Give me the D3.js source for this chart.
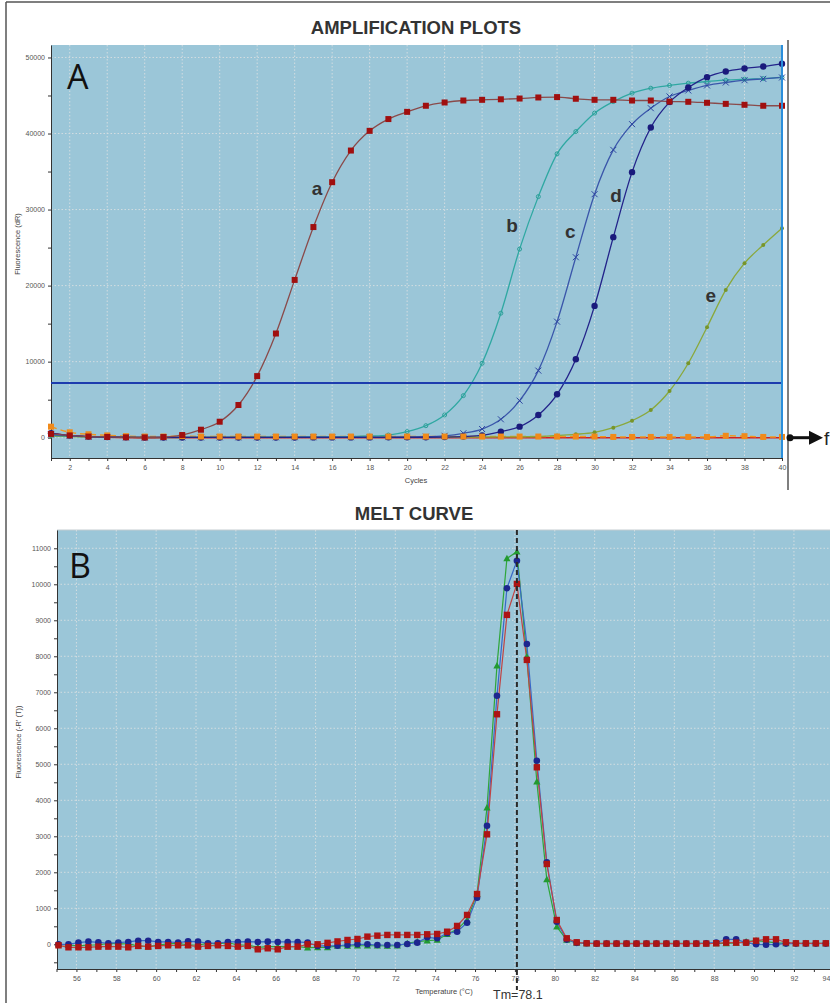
<!DOCTYPE html>
<html>
<head>
<meta charset="utf-8">
<script src="https://d3js.org/d3.v7.min.js"></script>
<style>
body { margin: 0; background: #fff; }
svg { display: block; font-family: "Liberation Sans", Arial, sans-serif; }
.grid line { stroke: #d3dde1; stroke-width: 1; stroke-dasharray: 1.5,2; }
.axis path, .axis line { stroke: #333; }
.axis text { fill: #555; font-size: 7px; }
.title { font-size: 18.5px; font-weight: bold; fill: #333; text-anchor: middle; }
.ax-label { font-size: 7.5px; fill: #444; text-anchor: middle; }
.curve-label { font-size: 19px; font-weight: bold; fill: #333; text-anchor: middle; }
.panel-letter { font-family: "Open Sans", "DejaVu Sans", sans-serif; font-size: 34px; fill: #111; }
</style>
</head>
<body>
<script>

// amplification data (cycles 1..40)
var cycles = [1,2,3,4,5,6,7,8,9,10,11,12,13,14,15,16,17,18,19,20,
              21,22,23,24,25,26,27,28,29,30,31,32,33,34,35,36,37,38,39,40];
var ampA = [500,300,150,100,50,30,80,350,1050,2100,4300,8100,13700,20750,27700,33600,37760,40350,41900,42850,
            43650,44080,44340,44430,44500,44600,44740,44790,44570,44430,44430,44340,44340,44200,44170,44040,43900,43780,43650,43650];
var ampB = [300,200,100,50,30,20,20,30,40,50,60,60,70,80,100,120,150,220,350,800,
            1580,2990,5530,9790,16370,24800,31700,37330,40260,42680,44200,45310,45960,46320,46620,46840,47010,47150,47230,47370];
var ampC = [400,250,150,80,50,40,40,40,40,50,50,50,50,60,60,60,70,70,80,100,
            130,250,580,1140,2420,4870,8820,15260,23730,32020,37850,41230,43330,44870,45660,46320,46710,47010,47190,47370];
var ampD = [600,300,150,80,50,30,30,30,30,30,30,30,30,30,40,40,40,40,50,50,
            60,80,150,300,790,1450,2990,5710,10320,17330,26370,34920,40790,44130,46050,47410,48160,48550,48820,49170];
var ampE = [200,150,100,80,60,50,50,50,50,50,50,50,50,50,50,50,60,60,60,60,
            70,70,80,90,100,120,150,300,450,710,1320,2240,3640,6140,9790,14530,19430,22950,25350,27550];
var ampF = [1450,710,450,300,200,150,150,200,150,150,150,150,150,150,150,150,150,150,150,150,
            150,150,150,150,150,150,150,150,150,150,100,100,100,100,100,100,250,200,100,100];
var ampF2 = [600,300,100,50,0,-50,0,0,0,0,0,0,0,0,0,0,0,0,0,0,
             0,0,0,0,0,0,0,0,0,0,0,0,0,0,0,0,0,0,0,0];
var threshold = 7200;
var curveLabels = [
  {text: "a", cycle: 15.2, value: 31900},
  {text: "b", cycle: 25.6, value: 27050},
  {text: "c", cycle: 28.7, value: 26260},
  {text: "d", cycle: 31.15, value: 30990},
  {text: "e", cycle: 36.2, value: 17850}
];
var ampTicksY = [0,10000,20000,30000,40000,50000];
var ampMinorY = [0,5000,10000,15000,20000,25000,30000,35000,40000,45000,50000];

// melt data (temperature, -R'(T))
var temps = [55.1,55.6,56.1,56.6,57.1,57.6,58.1,58.6,59.1,59.6,
             60.1,60.6,61.1,61.6,62.1,62.6,63.1,63.6,64.1,64.6,
             65.1,65.6,66.1,66.6,67.1,67.6,68.1,68.6,69.1,69.6,
             70.1,70.6,71.1,71.6,72.1,72.6,73.1,73.6,74.1,74.6,
             75.1,75.6,76.1,76.6,77.1,77.6,78.1,78.6,79.1,79.6,
             80.1,80.6,81.1,81.6,82.1,82.6,83.1,83.6,84.1,84.6,
             85.1,85.6,86.1,86.6,87.1,87.6,88.1,88.6,89.1,89.6,
             90.1,90.6,91.1,91.6,92.1,92.6,93.1,93.6];
var meltBlue = [0,0,46,74,56,30,46,65,100,100,
                65,65,46,83,74,30,30,65,65,74,
                65,74,65,65,65,46,-46,-46,-37,-20,
                0,0,-20,-20,-20,10,46,195,167,305,
                350,600,1295,3295,6905,9890,10655,8340,5100,2278,
                628,130,40,30,20,20,20,20,20,20,
                20,20,20,20,20,30,46,139,139,46,
                0,-10,0,20,20,20,20,20];
var meltRed = [-28,-83,-83,-83,-65,-65,-65,-83,-46,-65,
               -46,-28,-28,-28,-65,-46,-28,-46,-65,-46,
               -139,-111,-139,-65,-65,0,0,40,80,120,
               148,213,240,260,260,260,260,278,287,350,
               510,815,1397,3055,6390,9150,10010,7900,4917,2230,
               675,167,56,28,20,20,20,20,20,20,
               20,20,20,20,20,20,28,46,46,46,
               100,139,139,56,28,28,28,28];
var meltGreen = [0,-20,-46,-20,-20,28,10,10,-46,-65,
                 -20,10,28,-20,-20,28,10,46,-20,-20,
                 -83,-65,-65,-65,-65,-90,-83,-83,-46,-46,
                 -40,-40,-40,-46,-40,28,74,100,120,280,
                 415,675,1400,3795,7740,10720,10906,7990,4517,1805,
                 490,120,40,28,28,28,28,28,28,28,
                 28,28,28,28,28,28,28,28,40,74,
                 100,74,40,28,28,28,28,28];
var tm = 78.1;
var meltTicksY = [0,1000,2000,3000,4000,5000,6000,7000,8000,9000,10000,11000];
var meltMinorY = [-500,0,500,1000,1500,2000,2500,3000,3500,4000,4500,5000,5500,6000,6500,7000,7500,8000,8500,9000,9500,10000,10500,11000];
var meltTicksX = [55,56,57,58,59,60,61,62,63,64,65,66,67,68,69,70,71,72,73,74,75,76,77,78,79,80,81,82,83,84,85,86,87,88,89,90,91,92,93,94];

var width = 830, height = 1003;
var plotBg = "#9bc6d8";

var svg = d3.select("body").append("svg")
  .attr("width", width)
  .attr("height", height);

svg.append("rect").attr("width", width).attr("height", height).attr("fill", "#fff");

// outer frame lines
svg.append("line").attr("x1", 6).attr("y1", 2).attr("x2", width).attr("y2", 2)
  .attr("stroke", "#555").attr("stroke-width", 1.5);
svg.append("line").attr("x1", 6).attr("y1", 2).attr("x2", 6).attr("y2", height)
  .attr("stroke", "#555").attr("stroke-width", 1.5);
svg.append("line").attr("x1", 788).attr("y1", 40).attr("x2", 788).attr("y2", 490)
  .attr("stroke", "#555").attr("stroke-width", 1.5);

// ---------------- amplification plot ----------------
var ax = {left: 51, right: 782, top: 45, bottom: 458};
var xA = d3.scaleLinear().domain([1, 40]).range([ax.left, ax.right]);
var yA = d3.scaleLinear().domain([-2670, 51640]).range([ax.bottom, ax.top]);

svg.append("text").attr("class", "title").attr("x", 416).attr("y", 34).text("AMPLIFICATION PLOTS");

svg.append("rect").attr("x", ax.left).attr("y", ax.top)
  .attr("width", ax.right - ax.left).attr("height", ax.bottom - ax.top)
  .attr("fill", plotBg);

var gridA = svg.append("g").attr("class", "grid");
gridA.selectAll("line.v").data(cycles.filter(function(c) { return c % 2 === 0 && c < 40; }))
  .enter().append("line")
  .attr("x1", function(d) { return xA(d); }).attr("x2", function(d) { return xA(d); })
  .attr("y1", ax.top).attr("y2", ax.bottom);
gridA.selectAll("line.h").data(ampTicksY)
  .enter().append("line")
  .attr("y1", function(d) { return yA(d); }).attr("y2", function(d) { return yA(d); })
  .attr("x1", ax.left).attr("x2", ax.right);

svg.append("g").attr("class", "axis")
  .attr("transform", "translate(0," + ax.bottom + ")")
  .call(d3.axisBottom(xA).tickValues(cycles).tickSize(3).tickSizeOuter(0)
    .tickFormat(function(d) { return d % 2 === 0 ? d : ""; }))
  .selectAll("text").attr("dy", "0.9em");

svg.append("g").attr("class", "axis")
  .attr("transform", "translate(" + ax.left + ",0)")
  .call(d3.axisLeft(yA).tickValues(ampMinorY).tickSize(3).tickSizeOuter(0)
    .tickFormat(function(d) { return d % 10000 === 0 ? d : ""; }));

svg.append("text").attr("class", "ax-label").attr("x", 416).attr("y", 483).text("Cycles");
svg.append("text").attr("class", "ax-label")
  .attr("transform", "translate(20,244) rotate(-90)").text("Fluorescence (dR)");

var plotA = svg.append("g");
var lineA = d3.line()
  .x(function(d, i) { return xA(cycles[i]); })
  .y(function(d) { return yA(d); })
  .curve(d3.curveMonotoneX);

// baseline negative controls
plotA.append("path").datum(ampF2).attr("d", lineA)
  .attr("fill", "none").attr("stroke", "#d32020").attr("stroke-width", 1.5);
plotA.append("path").datum(ampF).attr("d", lineA)
  .attr("fill", "none").attr("stroke", "#f0961e").attr("stroke-width", 1.5)
  .attr("stroke-dasharray", "6,4");

var ampSeries = [
  {values: ampE, line: "#8aa83c", marker: "#77952a", shape: "dot", size: 2},
  {values: ampB, line: "#2fa8a2", marker: "#2b9f98", shape: "ring", size: 2},
  {values: ampC, line: "#3a56aa", marker: "#2d45a0", shape: "cross", size: 3},
  {values: ampD, line: "#23238a", marker: "#1a1a7c", shape: "dot", size: 3.2},
  {values: ampA, line: "#8a4a4a", marker: "#a00f0f", shape: "square", size: 3}
];

function drawMarkers(g, s, xs, ys, xKey) {
  var pts = s.values.map(function(v, i) { return {x: xs(xKey[i]), y: ys(v)}; });
  if (s.shape === "square") {
    g.selectAll(null).data(pts).enter().append("rect")
      .attr("x", function(d) { return d.x - s.size; }).attr("y", function(d) { return d.y - s.size; })
      .attr("width", s.size * 2).attr("height", s.size * 2).attr("fill", s.marker);
  } else if (s.shape === "dot") {
    g.selectAll(null).data(pts).enter().append("circle")
      .attr("cx", function(d) { return d.x; }).attr("cy", function(d) { return d.y; })
      .attr("r", s.size).attr("fill", s.marker);
  } else if (s.shape === "ring") {
    g.selectAll(null).data(pts).enter().append("circle")
      .attr("cx", function(d) { return d.x; }).attr("cy", function(d) { return d.y; })
      .attr("r", s.size).attr("fill", "none").attr("stroke", s.marker).attr("stroke-width", 1);
  } else if (s.shape === "cross") {
    g.selectAll(null).data(pts).enter().append("path")
      .attr("d", function(d) {
        var k = s.size;
        return "M" + (d.x - k) + "," + (d.y - k) + "L" + (d.x + k) + "," + (d.y + k) +
               "M" + (d.x - k) + "," + (d.y + k) + "L" + (d.x + k) + "," + (d.y - k);
      })
      .attr("stroke", s.marker).attr("stroke-width", 1);
  } else if (s.shape === "triangle") {
    g.selectAll(null).data(pts).enter().append("path")
      .attr("d", function(d) {
        var k = s.size;
        return "M" + d.x + "," + (d.y - k) + "L" + (d.x + k) + "," + (d.y + k * 0.8) +
               "L" + (d.x - k) + "," + (d.y + k * 0.8) + "Z";
      })
      .attr("fill", s.marker);
  }
}

ampSeries.forEach(function(s) {
  plotA.append("path").datum(s.values).attr("d", lineA)
    .attr("fill", "none").attr("stroke", s.line).attr("stroke-width", 1.3);
});
// markers: e, b, c, d, then the orange control, then a on top
ampSeries.slice(0, 4).forEach(function(s) { drawMarkers(plotA, s, xA, yA, cycles); });
drawMarkers(plotA, {values: ampF, marker: "#f08a1a", shape: "square", size: 3}, xA, yA, cycles);
drawMarkers(plotA, ampSeries[4], xA, yA, cycles);

// threshold line
svg.append("line").attr("x1", ax.left).attr("x2", ax.right)
  .attr("y1", yA(threshold)).attr("y2", yA(threshold))
  .attr("stroke", "#1d3cae").attr("stroke-width", 2);

// right edge
svg.append("line").attr("x1", ax.right).attr("x2", ax.right)
  .attr("y1", ax.top).attr("y2", ax.bottom)
  .attr("stroke", "#2b8fdc").attr("stroke-width", 2);

svg.selectAll("text.curve-label").data(curveLabels).enter().append("text")
  .attr("class", "curve-label")
  .attr("x", function(d) { return xA(d.cycle); })
  .attr("y", function(d) { return yA(d.value); })
  .text(function(d) { return d.text; });

// arrow pointing to f
var fy = yA(0);
svg.append("circle").attr("cx", 790).attr("cy", fy).attr("r", 3.5).attr("fill", "#111");
svg.append("line").attr("x1", 790).attr("x2", 812).attr("y1", fy).attr("y2", fy)
  .attr("stroke", "#111").attr("stroke-width", 3);
svg.append("path").attr("d", "M809," + (fy - 7) + "L823," + fy + "L809," + (fy + 7) + "Z").attr("fill", "#111");
svg.append("text").attr("x", 824).attr("y", fy + 7).attr("font-size", 19).attr("fill", "#222").text("f");

svg.append("text").attr("class", "panel-letter").attr("x", 67).attr("y", 89).text("A");

// ---------------- melt curve ----------------
var mx = {left: 57, right: 834, top: 530, bottom: 969};
var xM = d3.scaleLinear().domain([55, 94]).range([56.5, 833.8]);
var yM = d3.scaleLinear().domain([-686, 11508]).range([mx.bottom, mx.top]);

svg.append("text").attr("class", "title").attr("x", 414).attr("y", 520).text("MELT CURVE");

svg.append("rect").attr("x", mx.left).attr("y", mx.top)
  .attr("width", mx.right - mx.left).attr("height", mx.bottom - mx.top)
  .attr("fill", plotBg);
svg.append("line").attr("x1", mx.left).attr("x2", mx.right).attr("y1", mx.top).attr("y2", mx.top)
  .attr("stroke", "#c4ccd0").attr("stroke-width", 1);

var gridM = svg.append("g").attr("class", "grid");
gridM.selectAll("line.v").data(meltTicksX.filter(function(t) { return t % 2 === 0; }))
  .enter().append("line")
  .attr("x1", function(d) { return xM(d); }).attr("x2", function(d) { return xM(d); })
  .attr("y1", mx.top).attr("y2", mx.bottom);
gridM.selectAll("line.h").data(meltTicksY)
  .enter().append("line")
  .attr("y1", function(d) { return yM(d); }).attr("y2", function(d) { return yM(d); })
  .attr("x1", mx.left).attr("x2", mx.right);

var xAxisM = svg.append("g").attr("class", "axis")
  .attr("transform", "translate(0," + mx.bottom + ")")
  .call(d3.axisBottom(xM).tickValues(meltTicksX).tickSize(3).tickSizeOuter(0)
    .tickFormat(function(d) { return d % 2 === 0 ? d : ""; }));
xAxisM.selectAll("text").attr("dy", "0.9em");
// last label sits at the window edge: keep it inside
xAxisM.selectAll(".tick").filter(function(d) { return d === 94; })
  .select("text").attr("text-anchor", "end").attr("x", -4);

svg.append("g").attr("class", "axis")
  .attr("transform", "translate(" + mx.left + ",0)")
  .call(d3.axisLeft(yM).tickValues(meltMinorY).tickSize(3).tickSizeOuter(0)
    .tickFormat(function(d) { return d % 1000 === 0 ? d : ""; }));

svg.append("text").attr("class", "ax-label").attr("x", 444).attr("y", 994).text("Temperature (°C)");
svg.append("text").attr("class", "ax-label")
  .attr("transform", "translate(21,742) rotate(-90)").text("Fluorescence (-R' (T))");

var lineM = d3.line()
  .x(function(d, i) { return xM(temps[i]); })
  .y(function(d) { return yM(d); });

var meltSeries = [
  {values: meltGreen, line: "#2fa63a", marker: "#229a30", shape: "triangle", size: 3.6},
  {values: meltBlue, line: "#3868c8", marker: "#1d268e", shape: "dot", size: 3.3},
  {values: meltRed, line: "#c04444", marker: "#ad1414", shape: "square", size: 3.2}
];
var plotM = svg.append("g");
meltSeries.forEach(function(s) {
  plotM.append("path").datum(s.values).attr("d", lineM)
    .attr("fill", "none").attr("stroke", s.line).attr("stroke-width", 1.2);
});
meltSeries.forEach(function(s) { drawMarkers(plotM, s, xM, yM, temps); });

// Tm marker
svg.append("line").attr("x1", xM(tm)).attr("x2", xM(tm))
  .attr("y1", mx.top).attr("y2", 990)
  .attr("stroke", "#2a2a2a").attr("stroke-width", 2).attr("stroke-dasharray", "5,3");
svg.append("text").attr("x", xM(tm) + 1).attr("y", 999).attr("text-anchor", "middle")
  .attr("font-size", 12.5).attr("fill", "#333").text("Tm=" + tm);

svg.append("text").attr("class", "panel-letter").attr("x", 69).attr("y", 578).text("B");

</script>
</body>
</html>
